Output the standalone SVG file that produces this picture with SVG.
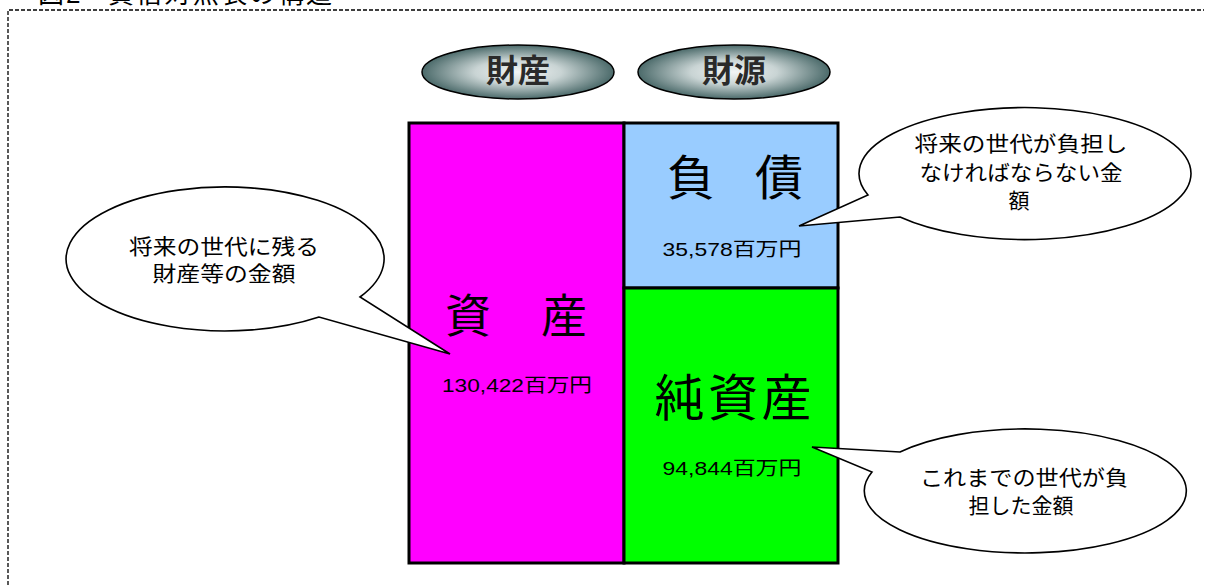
<svg xmlns="http://www.w3.org/2000/svg" width="1205" height="585" viewBox="0 0 1205 585">
<defs>
<radialGradient id="pill" cx="50%" cy="50%" r="50%">
<stop offset="0" stop-color="#f2f5f5"/>
<stop offset="0.45" stop-color="#c9d4d4"/>
<stop offset="1" stop-color="#4b6a6a"/>
</radialGradient>
<style>
text{font-family:"Liberation Sans","Noto Sans CJK JP",sans-serif;fill:#000}
.big{font-size:46px;text-anchor:middle}
.amt{font-size:19px;text-anchor:middle}
.cap{font-size:21px;text-anchor:middle}
.pilltxt{font-size:32px;font-weight:bold;text-anchor:middle;fill:#2a2a2a}
.bubble{fill:#fff;stroke:#000;stroke-width:1.6}
.pillshape{fill:url(#pill);stroke:#000;stroke-width:1.5}
</style>
</defs>
<rect width="1205" height="585" fill="#fff"/>
<g id="frame">
<path d="M8,585 V10 H1204" fill="none" stroke="#000" stroke-width="1.3" stroke-dasharray="4,2"/>
<text x="38" y="3" style="font-size:26px">図</text>
<text x="66" y="3" style="font-size:26px">2</text>
<text x="108" y="3" style="font-size:26px" textLength="224" lengthAdjust="spacing">貸借対照表の構造</text>
</g>
<g id="pill-zaisan">
<ellipse class="pillshape" cx="518" cy="72" rx="96" ry="27"/>
<text class="pilltxt" x="518" y="82">財産</text>
</g>
<g id="pill-zaigen">
<ellipse class="pillshape" cx="734" cy="72" rx="96" ry="27"/>
<text class="pilltxt" x="734" y="82">財源</text>
</g>
<g id="assets">
<rect x="409" y="123" width="215" height="440" fill="#ff00ff" stroke="#000" stroke-width="3"/>
<text class="big" x="516" y="332" textLength="142" lengthAdjust="spacing">資　産</text>
<text class="amt" x="517" y="392" textLength="150" lengthAdjust="spacingAndGlyphs">130,422百万円</text>
</g>
<g id="liabilities">
<rect x="624" y="123" width="214" height="165" fill="#99ccff" stroke="#000" stroke-width="3"/>
<text class="big" x="735" y="195" style="font-size:48px" textLength="136" lengthAdjust="spacing">負　債</text>
<text class="amt" x="732" y="256" textLength="139" lengthAdjust="spacingAndGlyphs">35,578百万円</text>
</g>
<g id="net-assets">
<rect x="624" y="288" width="214" height="275" fill="#00ff00" stroke="#000" stroke-width="3"/>
<text class="big" x="733" y="416" style="font-size:50px" textLength="157" lengthAdjust="spacing">純資産</text>
<text class="amt" x="732" y="475" textLength="139" lengthAdjust="spacingAndGlyphs">94,844百万円</text>
</g>
<g id="callout-assets">
<path class="bubble" d="M360,297 A159,72 0 1 0 319,317 L450,354 Z"/>
<text class="cap" x="224" y="254" textLength="190" lengthAdjust="spacingAndGlyphs">将来の世代に残る</text>
<text class="cap" x="224" y="281" textLength="143" lengthAdjust="spacingAndGlyphs">財産等の金額</text>
</g>
<g id="callout-liabilities">
<path class="bubble" d="M868,195 A166,66 0 1 1 900,217 L799,226 Z"/>
<text class="cap" x="1021" y="151" textLength="213" lengthAdjust="spacingAndGlyphs">将来の世代が負担し</text>
<text class="cap" x="1021" y="180" textLength="203" lengthAdjust="spacingAndGlyphs">なければならない金</text>
<text class="cap" x="1019" y="208">額</text>
</g>
<g id="callout-net-assets">
<path class="bubble" d="M900,452 A161,62 0 1 1 872,472 L812,447 Z"/>
<text class="cap" x="1024" y="485" textLength="208" lengthAdjust="spacingAndGlyphs">これまでの世代が負</text>
<text class="cap" x="1021" y="513" textLength="105" lengthAdjust="spacingAndGlyphs">担した金額</text>
</g>
</svg>
